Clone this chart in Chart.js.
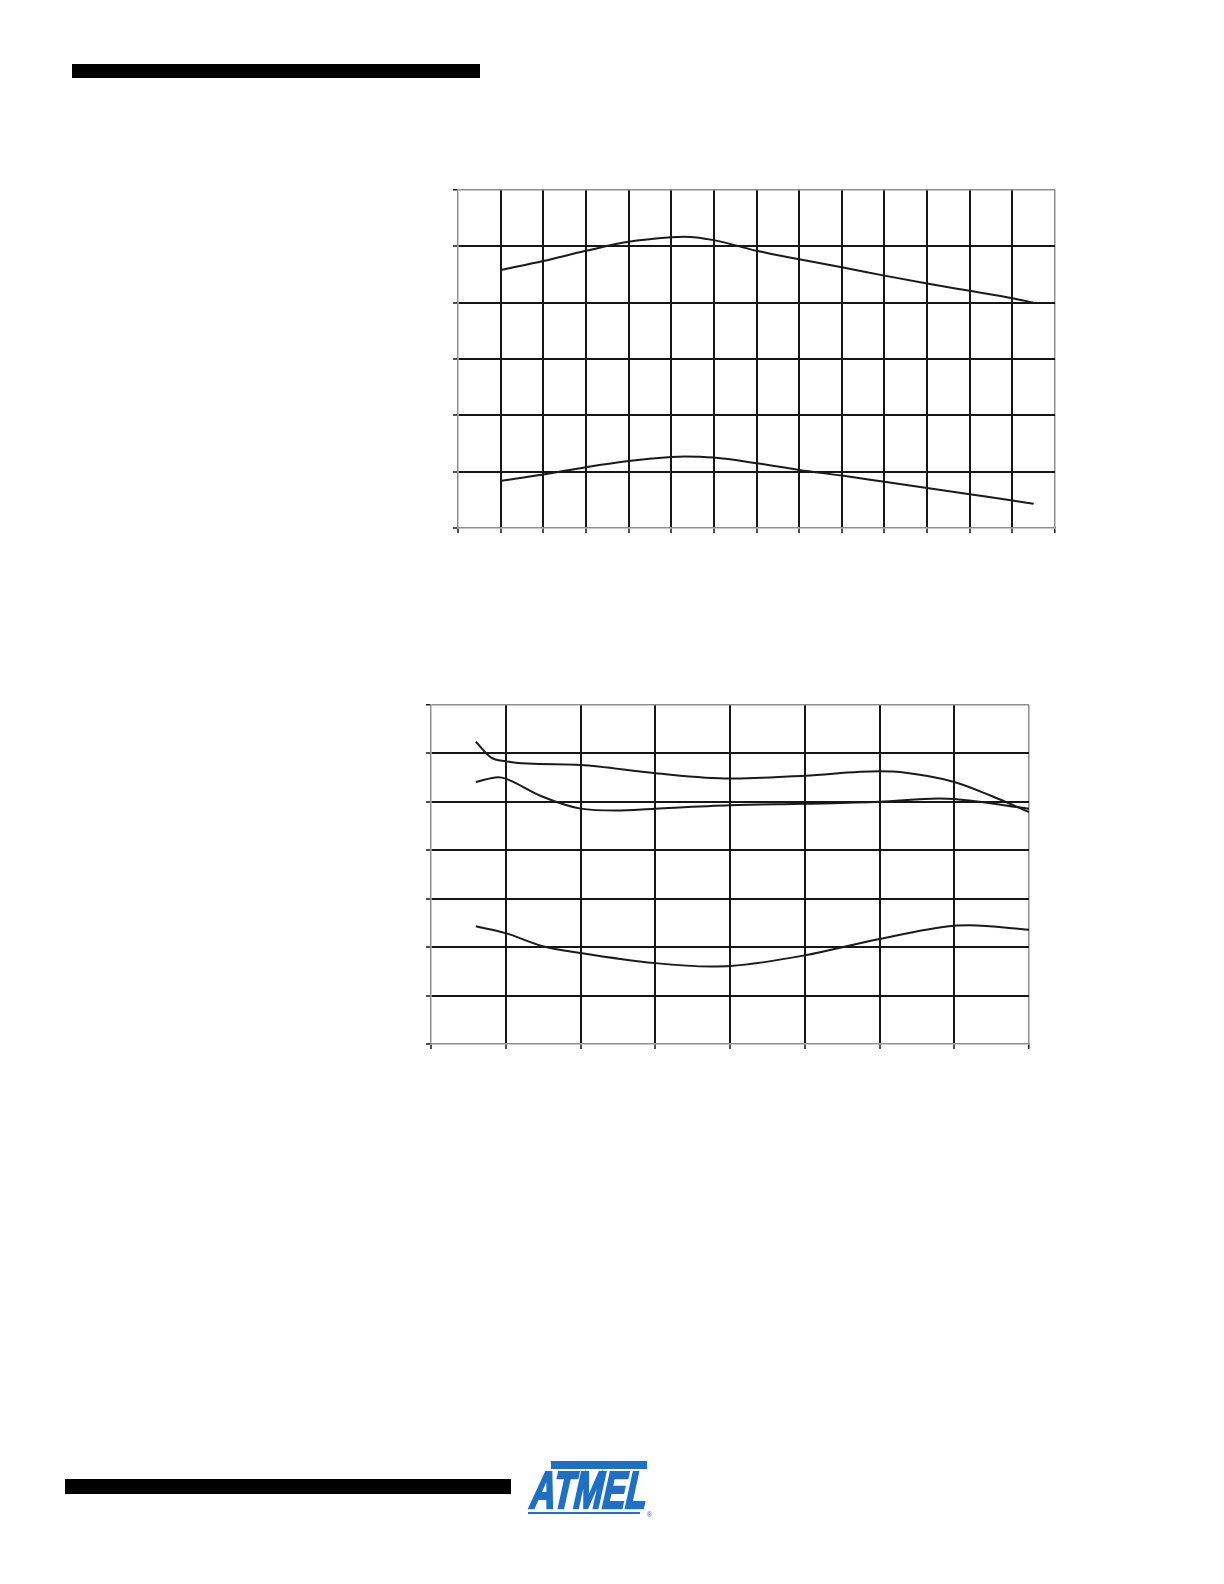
<!DOCTYPE html>
<html>
<head>
<meta charset="utf-8">
<script src="https://cdn.jsdelivr.net/npm/chart.js@4/dist/chart.umd.min.js"></script>
<style>
  body { margin: 0; background: #fff; }
  #page { position: relative; width: 1224px; height: 1584px; background: #fff; overflow: hidden; }
  .bar { position: absolute; background: #000; }
  canvas { position: absolute; }
</style>
</head>
<body>
<div id="page">
  <div class="bar" style="left:72px; top:64px; width:408px; height:14px;"></div>
  <div class="bar" style="left:65px; top:1479px; width:446px; height:15px;"></div>
  <canvas id="chart1" width="612" height="354" style="left:450px; top:182px;"></canvas>
  <canvas id="chart2" width="613" height="355" style="left:423px; top:697px;"></canvas>
  <canvas id="logo" width="140" height="70" style="left:515px; top:1450px;"></canvas>
</div>
<script>
// chart 1: two curves on a 14 x 6 grid
var c1X = [1, 2, 3, 4, 5, 5.3, 6, 7, 8, 9, 10, 11, 12, 13, 13.5];
var c1Upper = [4.58, 4.74, 4.92, 5.08, 5.16, 5.17, 5.11, 4.92, 4.77, 4.63, 4.48, 4.34, 4.21, 4.08, 4.0];
var c1Lower = [0.84, 0.95, 1.08, 1.19, 1.26, 1.27, 1.25, 1.15, 1.03, 0.93, 0.82, 0.71, 0.60, 0.49, 0.43];

// chart 2: three curves on an 8 x 7 grid
var c2AX = [0.6, 0.8, 1, 1.3, 2, 3, 4, 5, 6, 6.3, 7, 7.5, 8];
var c2AY = [6.24, 5.92, 5.84, 5.79, 5.76, 5.59, 5.48, 5.54, 5.63, 5.61, 5.41, 5.12, 4.79];
var c2BX = [0.6, 0.9, 1, 1.47, 2, 2.48, 3, 4, 5, 6, 6.8, 7, 8];
var c2BY = [5.41, 5.51, 5.48, 5.12, 4.86, 4.82, 4.86, 4.93, 4.96, 5.0, 5.07, 5.06, 4.86];
var c2CX = [0.6, 1, 1.47, 2, 3, 3.75, 4, 5, 6, 7, 7.2, 8];
var c2CY = [2.43, 2.29, 2.03, 1.88, 1.67, 1.60, 1.61, 1.83, 2.17, 2.44, 2.45, 2.36];

var gridBlack = '#161616';
var frameGrey = '#8f8f8f';

function toPoints(xs, ys) {
    var pts = [];
    for (let i = 0; i < xs.length; i++) {
        pts.push({ x: xs[i], y: ys[i] });
    }
    return pts;
}

function lineSet(xs, ys) {
    return {
        data: toPoints(xs, ys),
        borderColor: '#1a1a1a',
        borderWidth: 2,
        pointRadius: 0,
        fill: false,
        cubicInterpolationMode: 'monotone'
    };
}

function axis(max, horizontal) {
    return {
        type: 'linear',
        min: 0,
        max: max,
        ticks: { display: false, stepSize: 1 },
        grid: {
            color: function(ctx) {
                if (ctx.tick.value === 0) return 'rgba(0,0,0,0)';
                if (ctx.tick.value === max) return frameGrey;
                return gridBlack;
            },
            lineWidth: function(ctx) {
                return (ctx.tick.value === max) ? 1.5 : 2;
            },
            tickColor: gridBlack,
            tickWidth: 1.5,
            tickLength: 5
        },
        border: { display: true, color: frameGrey, width: 1.5 },
        afterFit: function(scale) {
            if (horizontal) scale.height = 5; else scale.width = 5;
        }
    };
}

function drawChart(id, xMax, yMax, datasets) {
    var ctx = document.getElementById(id);
    return new Chart(ctx, {
        type: 'line',
        data: { datasets: datasets },
        options: {
            responsive: false,
            animation: false,
            devicePixelRatio: 1,
            layout: { padding: { left: 3, top: 8, right: 7, bottom: 3 } },
            plugins: { legend: { display: false }, tooltip: { enabled: false } },
            scales: {
                x: axis(xMax, true),
                y: axis(yMax, false)
            }
        }
    });
}

drawChart('chart1', 14, 6, [lineSet(c1X, c1Upper), lineSet(c1X, c1Lower)]);
drawChart('chart2', 8, 7, [lineSet(c2AX, c2AY), lineSet(c2BX, c2BY), lineSet(c2CX, c2CY)]);

// logo, bottom of page
(function() {
    var g = document.getElementById('logo').getContext('2d');
    var blue = '#1f6fc3';
    g.fillStyle = blue;
    g.strokeStyle = blue;
    g.fillRect(36, 11, 96, 8);
    g.save();
    g.transform(1, 0, -0.22, 1, 0, 0);
    g.font = 'bold 52px "Liberation Sans Narrow", "Liberation Sans", sans-serif';
    g.textBaseline = 'alphabetic';
    g.lineWidth = 2.5;
    g.fillText('ATMEL', 26, 58, 116);
    g.strokeText('ATMEL', 26, 58, 116);
    g.restore();
    g.fillRect(13, 62, 112, 2);
    g.font = '7px "Liberation Sans", sans-serif';
    g.fillText('®', 132, 67);
})();
</script>
</body>
</html>
